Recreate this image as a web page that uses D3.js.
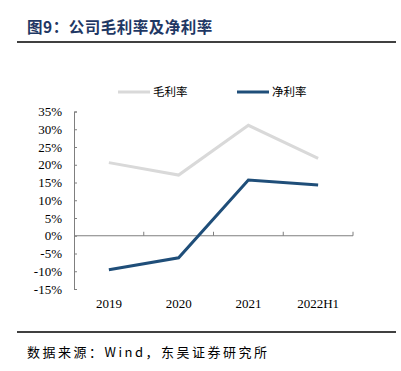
<!DOCTYPE html>
<meta charset="utf-8">
<style>
  body { margin: 0; background: #fff; }
  .cn { font-family: "Noto Sans CJK SC", sans-serif; }
</style>
<svg width="401" height="371"></svg>
<script src="https://cdn.jsdelivr.net/npm/d3@7"></script>
<script>
var years = ["2019", "2020", "2021", "2022H1"];
var grossMargin = [20.6, 17.1, 31.1, 21.8];
var netMargin = [-9.6, -6.2, 15.7, 14.3];
var yTicks = [-15, -10, -5, 0, 5, 10, 15, 20, 25, 30, 35];
var seriesNames = ["毛利率", "净利率"];
var seriesColors = ["#d9d9d9", "#1f4e79"];

var svg = d3.select("svg");
var plotLeft = 74, plotRight = 353, plotTop = 111.5, plotBottom = 289;
var serif = "'Liberation Serif', 'Times New Roman', serif";

// title + rules
svg.append("text").attr("class", "cn")
    .attr("x", 27).attr("y", 33)
    .attr("fill", "#1f3864").attr("font-weight", "bold").attr("font-size", 15.5)
    .attr("letter-spacing", 0.5)
    .text("图9：公司毛利率及净利率");
svg.append("line").attr("x1", 17).attr("x2", 396).attr("y1", 42).attr("y2", 42)
    .attr("stroke", "#000").attr("stroke-width", 1.5);
svg.append("line").attr("x1", 17).attr("x2", 396).attr("y1", 332).attr("y2", 332)
    .attr("stroke", "#000").attr("stroke-width", 1.5);
svg.append("text").attr("class", "cn")
    .attr("x", 27).attr("y", 357).attr("font-size", 13).attr("fill", "#000")
    .attr("letter-spacing", 2.5)
    .text("数据来源：Wind，东吴证券研究所");

var x = d3.scaleBand().domain(years).range([plotLeft, plotRight]);
var y = d3.scaleLinear().domain([-15, 35]).range([plotBottom, plotTop]);

// y axis
var ya = svg.append("g").attr("transform", "translate(" + plotLeft + ",0)")
    .call(d3.axisRight(y).tickValues(yTicks).tickSize(3).tickFormat(function(d) { return d + "%"; }))
    .attr("font-family", serif).attr("font-size", 13);
ya.select(".domain").attr("stroke", "#7f7f7f");
ya.selectAll(".tick line").attr("stroke", "#7f7f7f");
ya.selectAll(".tick text").attr("x", -12).attr("text-anchor", "end").attr("fill", "#000");

// x axis on zero line, ticks at category boundaries pointing up
var xa = svg.append("g").attr("transform", "translate(0," + y(0) + ")");
xa.append("line").attr("x1", plotLeft).attr("x2", plotRight).attr("stroke", "#7f7f7f");
xa.selectAll(".bt").data(years).enter().append("line")
    .attr("x1", function(d) { return x(d) + x.bandwidth(); })
    .attr("x2", function(d) { return x(d) + x.bandwidth(); })
    .attr("y1", 0).attr("y2", -4).attr("stroke", "#7f7f7f");
var xb = svg.append("g").attr("transform", "translate(0," + plotBottom + ")")
    .call(d3.axisBottom(x).tickSize(0).tickPadding(10))
    .attr("font-family", serif).attr("font-size", 13);
xb.select(".domain").remove();
xb.selectAll(".tick text").attr("fill", "#000");

var line = d3.line()
    .x(function(d, i) { return x(years[i]) + x.bandwidth() / 2; })
    .y(function(d) { return y(d); });

[grossMargin, netMargin].forEach(function(s, i) {
  svg.append("path").datum(s)
      .attr("fill", "none").attr("stroke", seriesColors[i])
      .attr("stroke-width", 3).attr("d", line);
});

// legend
var lx = [118, 237];
seriesNames.forEach(function(n, i) {
  svg.append("line").attr("x1", lx[i]).attr("x2", lx[i] + 32).attr("y1", 92).attr("y2", 92)
      .attr("stroke", seriesColors[i]).attr("stroke-width", 3);
  svg.append("text").attr("class", "cn").attr("x", lx[i] + 35).attr("y", 96)
      .attr("font-size", 11.5).attr("fill", "#000").text(n);
});
</script>
